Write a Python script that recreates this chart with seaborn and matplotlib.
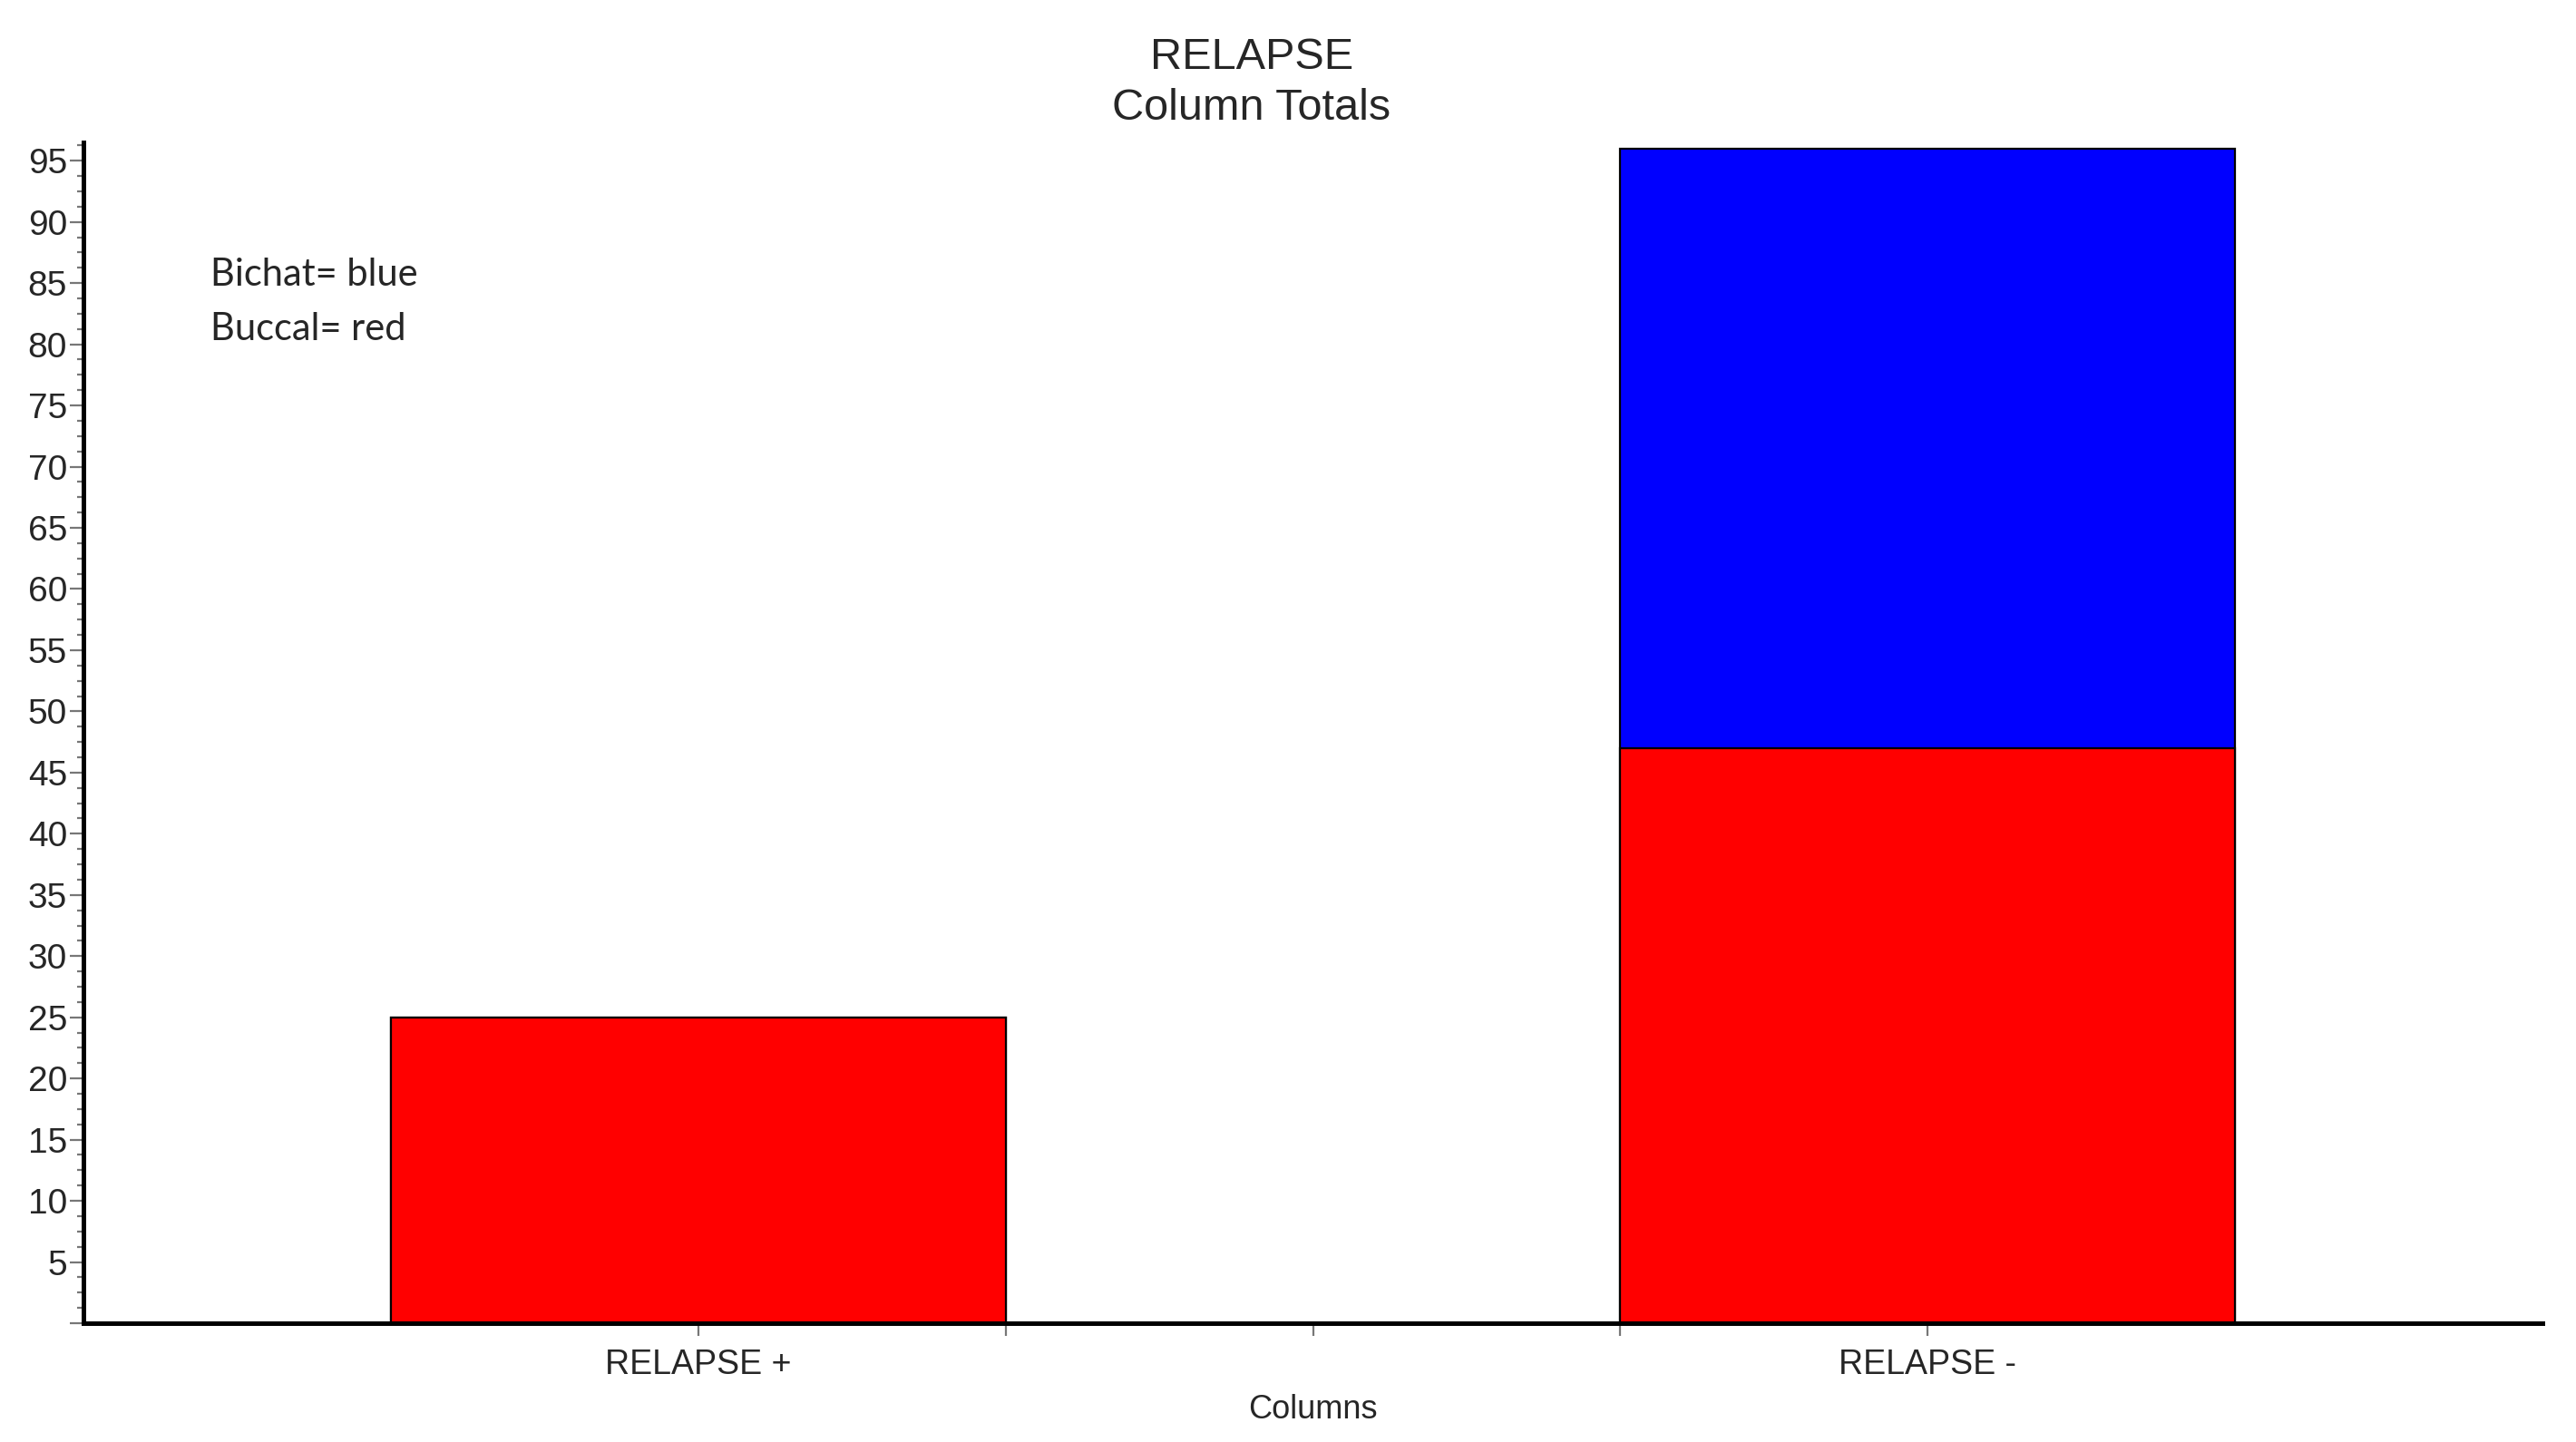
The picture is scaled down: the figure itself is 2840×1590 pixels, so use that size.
import matplotlib
matplotlib.use("Agg")
import matplotlib.pyplot as plt
import seaborn as sns
import numpy as np
from matplotlib.ticker import MultipleLocator, FixedLocator

# data
categories = ["RELAPSE +", "RELAPSE -"]
buccal = [25, 47]   # red
bichat = [0, 49]    # blue
totals = [b + c for b, c in zip(buccal, bichat)]

sns.set_theme(style="white")
plt.rcParams['font.family'] = ['Liberation Sans', 'DejaVu Sans']

fig = plt.figure(figsize=(14.2, 7.95), dpi=200)
ax = fig.add_axes([92 / 2840, 1 - 1459 / 1590, (2803 - 92) / 2840, (1459 - 157) / 1590])

# stacked: total (blue) underneath, buccal (red) drawn over it
sns.barplot(x=categories, y=totals, color="#0000ff", saturation=1, width=0.5,
            edgecolor="black", linewidth=0.8, ax=ax)
sns.barplot(x=categories, y=buccal, color="#ff0000", saturation=1, width=0.5,
            edgecolor="black", linewidth=0.8, ax=ax)

ax.set_xlim(-0.5, 1.5)
ax.set_ylim(0, 96.5)

# y ticks: majors every 5, minors every 1.25
ax.yaxis.set_major_locator(MultipleLocator(5))
ax.yaxis.set_minor_locator(MultipleLocator(1.25))
ax.set_yticklabels([("" if v == 0 else f"{int(v)}") for v in ax.get_yticks()])
ax.xaxis.set_minor_locator(FixedLocator([0.25, 0.5, 0.75]))

ax.tick_params(axis="y", which="major", length=5.5, width=0.8, color="#777777",
               labelsize=14, pad=1, left=True)
ax.tick_params(axis="y", which="minor", length=2.5, width=0.8, color="#777777", left=True)
ax.tick_params(axis="x", which="both", length=5, width=0.8, color="#777777",
               labelsize=13.5, pad=5, bottom=True)

for side in ["top", "right"]:
    ax.spines[side].set_visible(False)
for side in ["left", "bottom"]:
    ax.spines[side].set_linewidth(1.8)
    ax.spines[side].set_color("black")

ax.set_xlabel("Columns", fontsize=13, labelpad=5)
ax.set_ylabel("")

fig.text(1380 / 2840, 1 - 63 / 1590, "RELAPSE", ha="center", va="center", fontsize=17.5)
fig.text(1380 / 2840, 1 - 119 / 1590, "Column Totals", ha="center", va="center", fontsize=17.5)

ax.text(232 / 2840, 1 - 315 / 1590, "Bichat= blue", transform=fig.transFigure,
        fontsize=15, family=["Lato", "DejaVu Sans"], va="baseline")
ax.text(232 / 2840, 1 - 375 / 1590, "Buccal= red", transform=fig.transFigure,
        fontsize=15, family=["Lato", "DejaVu Sans"], va="baseline")

fig.savefig("out.png", dpi=200)
plt.close(fig)
